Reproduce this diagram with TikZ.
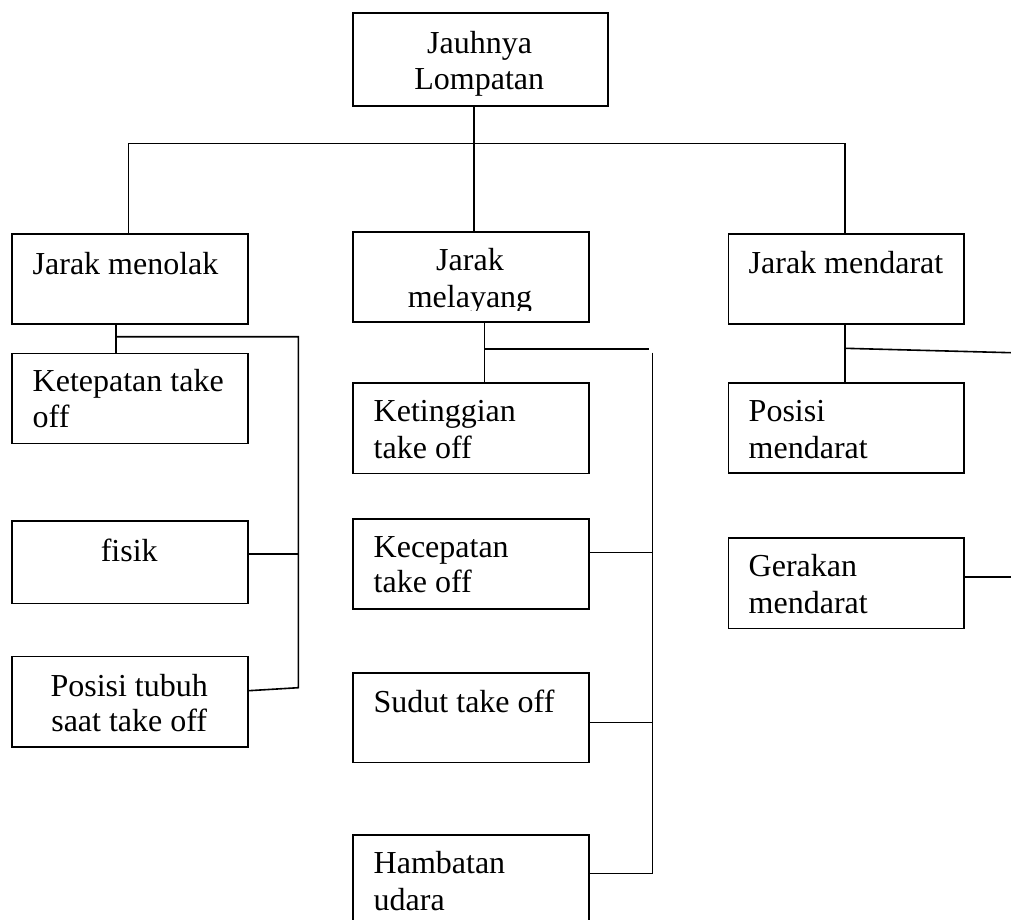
\documentclass[tikz,border=0pt]{standalone}
\usepackage{fontspec}
\setmainfont{Liberation Serif}
\begin{document}
\begin{tikzpicture}[x=0.5pt,y=-0.5pt,
  box/.style={draw,line width=0.8pt,rectangle,inner sep=0pt,anchor=north west,minimum width=118pt,minimum height=45pt},
  txt/.style={inner sep=0pt,font=\fontsize{16pt}{18.4pt}\selectfont},
  lt/.style={txt,anchor=base west},
  ct/.style={txt,anchor=base},
  conn/.style={line width=0.8pt}]
\useasboundingbox (0,0) rectangle (1011,920);
\clip (0,0) rectangle (1011,920);
\fill[white] (0,0) rectangle (1011,920);
% boxes
\node[box,minimum width=127.5pt,minimum height=46.35pt] (top) at (352.3,12.3) {};
\node[box] (menolak) at (11,233.3) {};
\node[box] (melayang) at (352.3,231) {};
\node[box,minimum width=117.8pt] (mendarat) at (727.7,233.3) {};
\node[box] (ketepatan) at (11,352.7) {};
\node[box,minimum height=41.35pt] (fisik) at (11,520) {};
\node[box,minimum height=45.15pt] (tubuh) at (11,655.7) {};
\node[box,minimum height=45.2pt] (ketinggian) at (352.3,382.3) {};
\node[box] (kecepatan) at (352.3,518.3) {};
\node[box,minimum height=44.7pt] (sudut) at (352.3,672.3) {};
\node[box,minimum height=50pt] (hambatan) at (352.3,834.3) {};
\node[box,minimum width=117.8pt] (posisi) at (727.7,382.3) {};
\node[box,minimum width=117.8pt,minimum height=45.2pt] (gerakan) at (727.7,537.3) {};
% texts
\node[ct] (t1) at (479.6,53.3) {Jauhnya};
\node[ct] (t2) at (479.3,89.3) {Lompatan};
\node[lt] (t3) at (32.3,274) {Jarak menolak};
\node[ct] (t4) at (470,270.7) {Jarak};
\begin{scope}
\clip (352.3,231) rectangle (588.3,310.7);
\node[ct] (t5) at (470,307.3) {melayang};
\end{scope}
\node[lt] (t6) at (748.3,273.3) {Jarak mendarat};
\node[lt] (t7) at (32.3,391.7) {Ketepatan take};
\node[lt] (t8) at (32.3,427.3) {off};
\node[ct] (t9) at (129.2,561) {fisik};
\node[ct] (t10) at (129.2,696) {Posisi tubuh};
\node[ct] (t11) at (129.2,731.5) {saat take off};
\node[lt] (t12) at (373.3,421.7) {Ketinggian};
\node[lt] (t13) at (373.3,458.3) {take off};
\node[lt] (t14) at (373.3,557.3) {Kecepatan};
\node[lt] (t15) at (373.3,592.7) {take off};
\node[lt] (t16) at (373.3,712.7) {Sudut take off};
\node[lt] (t17) at (373.3,873.3) {Hambatan};
\node[lt] (t18) at (373.3,910) {udara};
\node[lt] (t19) at (748.3,421.7) {Posisi};
\node[lt] (t20) at (748.3,458.3) {mendarat};
\node[lt] (t21) at (748.3,576.7) {Gerakan};
\node[lt] (t22) at (748.3,613.3) {mendarat};
% coordinates
\coordinate (j0) at (474,143.3);
\coordinate (jL) at (128.3,143.3);
\coordinate (jR) at (845,143.3);
\coordinate (m1) at (116,336.7);
\coordinate (m2) at (298.3,336.7);
\coordinate (m3) at (298.3,687.7);
\coordinate (m4) at (0,690.7);
\coordinate (f1) at (298.3,554);
\coordinate (v1) at (484.3,349);
\coordinate (v2) at (649.3,349);
\coordinate (v3) at (652.3,352.7);
\coordinate (v4) at (652.3,873.3);
\coordinate (k1) at (652.3,552.3);
\coordinate (s1) at (652.3,722.3);
\coordinate (d1) at (845,348.3);
\coordinate (d2) at (1011,352.7);
\coordinate (g1) at (1011,576.7);
% connectors
\draw[conn] (top.south -| j0) -- (melayang.north -| j0);
\draw[conn] (menolak.north -| jL) -- (jL) -- (jR) -- (mendarat.north -| jR);
\draw[conn] (menolak.south -| m1) -- (ketepatan.north -| m1);
\draw[conn] (m1) -- (m2) -- (m3) -- (tubuh.east |- m4);
\draw[conn] (fisik.east |- f1) -- (f1);
\draw[conn] (melayang.south -| v1) -- (ketinggian.north -| v1);
\draw[conn] (v1) -- (v2);
\draw[conn] (v3) -- (v4) -- (hambatan.east |- v4);
\draw[conn] (kecepatan.east |- k1) -- (k1);
\draw[conn] (sudut.east |- s1) -- (s1);
\draw[conn] (mendarat.south -| d1) -- (posisi.north -| d1);
\draw[conn] (d1) -- (d2);
\draw[conn] (gerakan.east |- g1) -- (g1);
\end{tikzpicture}
\end{document}
